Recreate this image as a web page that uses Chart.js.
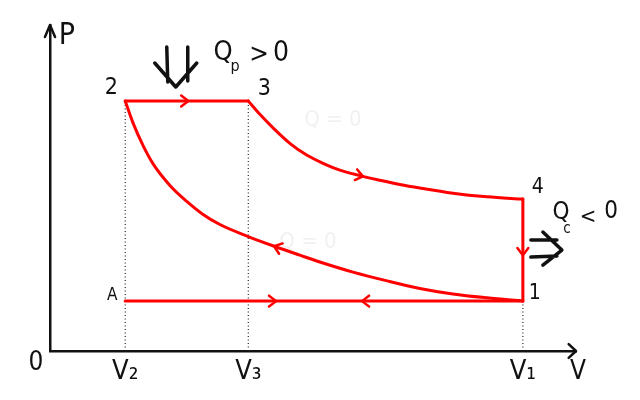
<!DOCTYPE html>
<html><head><meta charset="utf-8">
<script src="https://cdn.jsdelivr.net/npm/chart.js@4"></script>
<style>html,body{margin:0;padding:0;background:#fff;overflow:hidden}canvas{display:block}</style>
</head><body>
<canvas id="c" width="640" height="400"></canvas>
<script>
// ---- data (V and P in arbitrary units, axes run 0..100) ----
const vTickValues = [14.3, 37.7, 89.9];
const vTickLabels = ['V₂', 'V₃', 'V₁'];
const isobarHighV = [14.3, 37.7];          // 2 -> 3
const isobarHighP = [76.7, 76.7];
const expansionV = [37.7, 39.9, 42.5, 45.6, 48.8, 52.0, 55.1, 58.9, 62.7, 66.5, 70.3, 76.6, 83.1, 89.9]; // 3 -> 4
const expansionP = [76.7, 72.6, 68.3, 63.7, 60.1, 57.5, 55.5, 53.8, 52.4, 51.1, 50.0, 48.4, 47.3, 46.6];
const isochoreV = [89.9, 89.9];            // 4 -> 1
const isochoreP = [46.6, 15.3];
const compressionV = [14.3, 15.8, 17.7, 19.6, 22.8, 26.0, 29.1, 32.3, 37.7, 42.5, 48.2, 51.3, 57.6, 64.1, 70.3, 76.6, 83.1, 89.9]; // 1 -> 2
const compressionP = [76.7, 69.9, 63.0, 57.4, 50.8, 45.9, 41.9, 38.8, 35.1, 32.2, 29.0, 27.3, 24.2, 21.5, 19.2, 17.5, 16.3, 15.3];
const isobarLowV = [14.3, 89.9];           // A - 1
const isobarLowP = [15.3, 15.3];
const guideTopP = [isobarHighP[0], isobarHighP[1], isochoreP[1]];

const pts = (V, P) => V.map((v, i) => ({x: v, y: P[i]}));
const RED = '#ff0000';
const FONT = '"Liberation Sans Narrow","DejaVu Sans Condensed","Liberation Sans",sans-serif';

const curves = {
  top: pts(isobarHighV, isobarHighP),
  exp: pts(expansionV, expansionP),
  iso: pts(isochoreV, isochoreP),
  comp: pts(compressionV, compressionP),
  base: pts(isobarLowV, isobarLowP)
};
// direction arrows along the cycle
const arrows = [
  {c: 'top', key: 'x', val: 26.3, dir: 1},
  {c: 'exp', key: 'x', val: 59.5, dir: 1},
  {c: 'iso', key: 'y', val: 29.4, dir: 1},
  {c: 'comp', key: 'x', val: 42.6, dir: -1},
  {c: 'base', key: 'x', val: 43.0, dir: 1},
  {c: 'base', key: 'x', val: 59.3, dir: -1}
];

function chevron(ctx, px, py, ang, len, spread) {
  ctx.beginPath();
  ctx.moveTo(px + Math.cos(ang + Math.PI - spread) * len, py + Math.sin(ang + Math.PI - spread) * len);
  ctx.lineTo(px, py);
  ctx.lineTo(px + Math.cos(ang + Math.PI + spread) * len, py + Math.sin(ang + Math.PI + spread) * len);
  ctx.stroke();
}
function arrowPos(chart, p, key, val, dir) {
  const X = chart.scales.x, Y = chart.scales.y;
  for (let i = 0; i < p.length - 1; i++) {
    const a = p[i], b = p[i + 1];
    const lo = Math.min(a[key], b[key]), hi = Math.max(a[key], b[key]);
    if (val >= lo && val <= hi && hi > lo) {
      const t = (val - a[key]) / (b[key] - a[key]);
      const ax = X.getPixelForValue(a.x), ay = Y.getPixelForValue(a.y);
      const bx = X.getPixelForValue(b.x), by = Y.getPixelForValue(b.y);
      let ang = Math.atan2(by - ay, bx - ax);
      if (dir < 0) ang += Math.PI;
      return {px: ax + (bx - ax) * t, py: ay + (by - ay) * t, ang};
    }
  }
  return null;
}
function txt(ctx, s, x, y, size, color) {
  ctx.fillStyle = color || '#111';
  ctx.font = size + 'px ' + FONT;
  ctx.textAlign = 'center';
  ctx.textBaseline = 'middle';
  ctx.fillText(s, x, y);
}

const annot = {
  id: 'annot',
  afterDraw(chart) {
    const {ctx, chartArea: a, scales: {x: X, y: Y}} = chart;
    ctx.save();
    ctx.lineCap = 'round'; ctx.lineJoin = 'round';
    // axis arrow heads
    ctx.strokeStyle = '#111'; ctx.lineWidth = 2.5;
    chevron(ctx, a.right, a.bottom, 0, 10, 0.75);
    chevron(ctx, a.left, a.top, -Math.PI / 2, 13, 0.4);
    // cycle arrows
    ctx.strokeStyle = RED; ctx.lineWidth = 2.5;
    arrows.forEach(r => {
      const q = arrowPos(chart, curves[r.c], r.key, r.val, r.dir);
      if (q) chevron(ctx, q.px, q.py, q.ang, 9, 0.65);
    });
    // heat-flow double arrows
    ctx.strokeStyle = '#111'; ctx.lineWidth = 3.5;
    const cx = X.getPixelForValue((isobarHighV[0] + isobarHighV[1]) / 2) - 11;
    ctx.beginPath();
    ctx.moveTo(cx - 9, 47); ctx.lineTo(cx - 8, 82);
    ctx.moveTo(cx + 12, 47); ctx.lineTo(cx + 12, 81);
    ctx.moveTo(cx - 21, 63); ctx.lineTo(cx, 87); ctx.lineTo(cx + 21, 63);
    ctx.stroke();
    const rx = X.getPixelForValue(isochoreV[0]);
    const ry = Y.getPixelForValue((isochoreP[0] + isochoreP[1]) / 2) - 18;
    ctx.beginPath();
    ctx.moveTo(rx + 8, ry + 8); ctx.lineTo(rx + 34, ry + 8);
    ctx.moveTo(rx + 8, ry + 25); ctx.lineTo(rx + 34, ry + 24);
    ctx.moveTo(rx + 20, ry); ctx.lineTo(rx + 39, ry + 18); ctx.lineTo(rx + 20, ry + 33);
    ctx.stroke();
    // point labels
    const x2 = X.getPixelForValue(isobarHighV[0]), y2 = Y.getPixelForValue(isobarHighP[0]);
    const x3 = X.getPixelForValue(isobarHighV[1]), y3 = Y.getPixelForValue(isobarHighP[1]);
    const x4 = X.getPixelForValue(isochoreV[0]), y4 = Y.getPixelForValue(isochoreP[0]);
    const x1 = X.getPixelForValue(isochoreV[1]), y1 = Y.getPixelForValue(isochoreP[1]);
    const xA = X.getPixelForValue(isobarLowV[0]), yA = Y.getPixelForValue(isobarLowP[0]);
    txt(ctx, '2', x2 - 14, y2 - 13, 23);
    txt(ctx, '3', x3 + 16, y3 - 12, 23);
    txt(ctx, '4', x4 + 15, y4 - 12, 21);
    txt(ctx, '1', x1 + 12, y1 - 8, 21);
    txt(ctx, 'A', xA - 13, yA - 6, 17);
    txt(ctx, 'P', a.left + 17, a.top + 11, 30);
    txt(ctx, '0', a.left - 14, a.bottom + 12, 26);
    txt(ctx, 'V', a.right + 2, a.bottom + 21, 26);
    // heat labels
    txt(ctx, 'Q', 223, 53, 27); txt(ctx, 'p', 235, 67, 16);
    txt(ctx, '>', 259, 55, 26); txt(ctx, '0', 281, 54, 28);
    txt(ctx, 'Q', 561, 213, 24); txt(ctx, 'c', 567, 229, 15);
    txt(ctx, '<', 588, 217, 22); txt(ctx, '0', 611, 212, 24);
    // faint adiabatic notes
    txt(ctx, 'Q = 0', 333, 120, 22, 'rgba(0,0,0,0.06)');
    txt(ctx, 'Q = 0', 308, 242, 22, 'rgba(0,0,0,0.06)');
    ctx.restore();
  }
};

const redLine = (data, extra) => Object.assign({data, borderColor: RED, borderWidth: 3, showLine: true, pointRadius: 0, fill: false, borderCapStyle: 'round', borderJoinStyle: 'round'}, extra || {});
const guide = (v, p) => ({data: [{x: v, y: 0}, {x: v, y: p}], borderColor: '#222', borderWidth: 1.2, borderDash: [1, 2.5], showLine: true, pointRadius: 0});

new Chart(document.getElementById('c'), {
  type: 'scatter',
  data: {
    datasets: [
      redLine(curves.top),
      redLine(curves.exp, {cubicInterpolationMode: 'monotone'}),
      redLine(curves.iso),
      redLine(curves.comp, {cubicInterpolationMode: 'monotone'}),
      redLine(curves.base),
      ...vTickValues.map((v, i) => guide(v, guideTopP[i]))
    ]
  },
  options: {
    responsive: false, animation: false, devicePixelRatio: 1,
    layout: {padding: {left: 0, top: 25, right: 64, bottom: 0}},
    plugins: {legend: {display: false}, tooltip: {enabled: false}},
    scales: {
      x: {
        type: 'linear', min: 0, max: 100,
        grid: {display: false, drawTicks: false, tickLength: 0},
        border: {display: true, color: '#111', width: 2.5},
        afterBuildTicks: s => { s.ticks = vTickValues.map(v => ({value: v})); },
        afterFit: s => { s.height = 49; },
        ticks: {autoSkip: false, maxRotation: 0, padding: 5, color: '#111', font: {family: FONT, size: 27},
          callback: (v, i) => vTickLabels[i]}
      },
      y: {
        type: 'linear', min: 0, max: 100,
        grid: {display: false, drawTicks: false, tickLength: 0},
        border: {display: true, color: '#111', width: 2.5},
        ticks: {display: false},
        afterFit: s => { s.width = 50; }
      }
    }
  },
  plugins: [annot]
});
</script>
</body></html>
